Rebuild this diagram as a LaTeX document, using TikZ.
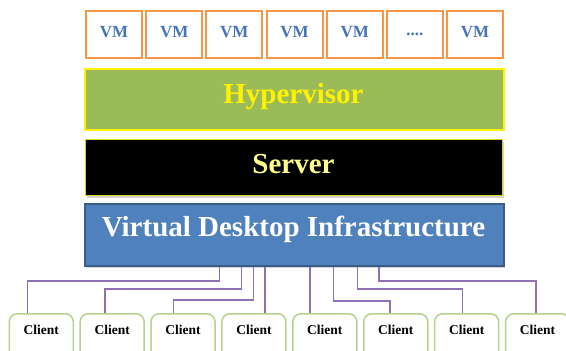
\documentclass[tikz,border=0pt]{standalone}
\usepackage{fontspec}
\setmainfont{Liberation Serif}
\usetikzlibrary{shadows}
\definecolor{vmorange}{HTML}{F79646}
\definecolor{vmblue}{HTML}{4675B5}
\definecolor{hvgreen}{HTML}{9BBB59}
\definecolor{vdiblue}{HTML}{4F81BD}
\definecolor{vdiborder}{HTML}{385D8A}
\definecolor{clgreen}{HTML}{B7D18E}
\definecolor{linkpurple}{HTML}{8E72B4}
\definecolor{srvtext}{HTML}{FFFF8A}
\tikzset{
  vmbox/.style={draw=vmorange, line width=2pt, fill=white, minimum width=56pt, minimum height=47pt, anchor=north west, inner sep=0pt},
  vmtext/.style={anchor=base, text=vmblue, font=\fontsize{17}{18}\selectfont\bfseries, inner sep=0pt},
  layerbox/.style={anchor=north west, inner sep=0pt},
  layertext/.style={anchor=base, font=\fontsize{29}{32}\selectfont\bfseries, inner sep=0pt},
  clientbox/.style={draw=clgreen, line width=1.5pt, fill=white, rounded corners=8pt, minimum width=64pt, minimum height=52pt, anchor=north west, inner sep=0pt},
  clienttext/.style={anchor=base, font=\fontsize{13.5}{15}\selectfont\bfseries, inner sep=0pt},
  link/.style={draw=linkpurple, line width=1.1pt}
}
\begin{document}
\begin{tikzpicture}[x=1pt,y=-1pt]
\clip (0,0) rectangle (566,351);
\fill[white] (0,0) rectangle (566,351);
% VM boxes
\foreach \i in {1,...,7}{
  \node[vmbox] (vm\i) at ({85+60.17*(\i-1)},10) {};
}
\foreach \i in {1,2,3,4,5,7}{
  \node[vmtext] (vmt\i) at ([yshift=-3pt]vm\i.center) {VM};
}
\node[vmtext] (vmt6) at ([yshift=-1pt]vm6.center) {....};
% Hypervisor
\node[layerbox, draw=yellow, line width=2pt, fill=hvgreen, minimum width=419pt, minimum height=61pt] (hyp) at (84,68) {};
\node[layertext, text=yellow] (hypt) at (293.5,103.3) {Hypervisor};
% Server
\node[layerbox, draw=yellow!85!black, line width=1pt, fill=black, minimum width=417pt, minimum height=56pt, drop shadow={opacity=0.35, shadow xshift=1pt, shadow yshift=-2pt}] (srv) at (85,139) {};
\node[layertext, text=srvtext] (srvt) at (293.5,173.3) {Server};
% VDI
\node[layerbox, draw=vdiborder, line width=1.5pt, fill=vdiblue, minimum width=419pt, minimum height=62pt, drop shadow={opacity=0.35, shadow xshift=1pt, shadow yshift=-2pt}] (vdi) at (84,203) {};
\node[layertext, text=white] (vdit) at (293.5,236.7) {Virtual Desktop Infrastructure};
% Clients
\foreach \i in {1,...,8}{
  \node[clientbox] (c\i) at ({8.5+70.9*(\i-1)},313) {};
  \node[clienttext] (ct\i) at ([yshift=-21pt]c\i.north) {Client};
}
% Links
\foreach \xa/\ym/\xb/\c in {219.3/281/27.7/c1, 241.7/289/105/c2, 253.3/300/173.3/c3, 265/300/265/c4, 310/300/310/c5, 333.3/301/390/c6, 357.3/289/462.7/c7, 379/281/536/c8}{
  \draw[link] (vdi.south -| \xa,0) -- (\xa,\ym) -- (\xb,\ym) -- (\c.north -| \xb,0);
}
\end{tikzpicture}
\end{document}
